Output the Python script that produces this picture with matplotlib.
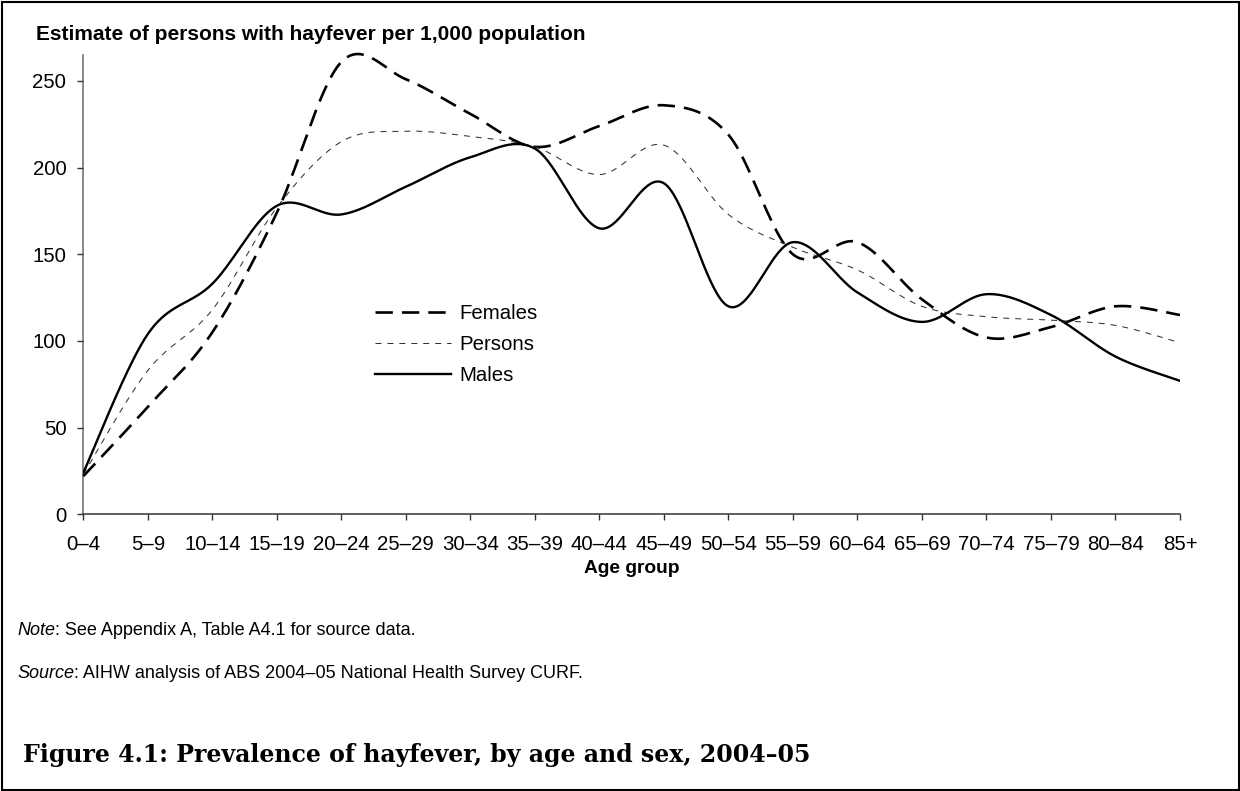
import numpy as np
import matplotlib
matplotlib.use("Agg")
import matplotlib.pyplot as plt
from matplotlib.patches import Rectangle

# ---------------- data ----------------
age_groups = ["0–4", "5–9", "10–14", "15–19", "20–24", "25–29", "30–34", "35–39",
              "40–44", "45–49", "50–54", "55–59", "60–64", "65–69", "70–74",
              "75–79", "80–84", "85+"]
females = [22, 62, 105, 174, 261, 251, 231, 212, 224, 236, 219, 150, 157, 124, 102, 108, 120, 115]
persons = [23, 83, 118, 177, 215, 221, 218, 212, 196, 213, 173, 154, 141, 120, 114, 112, 109, 99]
males = [24, 104, 133, 178, 173, 189, 206, 211, 165, 191, 120, 157, 128, 111, 127, 115, 91, 77]

y_ticks = [0, 50, 100, 150, 200, 250]

plt.rcParams['font.family'] = ['Liberation Sans', 'DejaVu Sans']
plt.rcParams['lines.scale_dashes'] = False

W, H, DPI = 1240, 791, 100
fig = plt.figure(figsize=(W / DPI, H / DPI), dpi=DPI)
fig.patch.set_facecolor('white')

ax_l, ax_r, ax_b, ax_t = 83.3, 1180, 514.3, 55
ax = fig.add_axes([ax_l / W, 1 - ax_b / H, (ax_r - ax_l) / W, (ax_b - ax_t) / H])


def excel_smooth(ys, n=40):
    """Excel-style smoothed line (cubic Bezier, Catmull-Rom control points)."""
    pts = np.column_stack([np.arange(len(ys), dtype=float), np.asarray(ys, float)])
    out = [pts[0]]
    t = np.linspace(0, 1, n)[1:, None]
    for i in range(len(pts) - 1):
        p0 = pts[i - 1] if i > 0 else pts[i]
        p1, p2 = pts[i], pts[i + 1]
        p3 = pts[i + 2] if i + 2 < len(pts) else pts[i + 1]
        c1 = p1 + (p2 - p0) / 6.0
        c2 = p2 - (p3 - p1) / 6.0
        seg = ((1 - t) ** 3) * p1 + 3 * ((1 - t) ** 2) * t * c1 + 3 * (1 - t) * t ** 2 * c2 + t ** 3 * p2
        out.extend(seg)
    out = np.array(out)
    return out[:, 0], out[:, 1]


fx, fy = excel_smooth(females)
px, py = excel_smooth(persons)
mx, my = excel_smooth(males)

ax.plot(fx, fy, color='black', lw=1.9, linestyle=(0, (12.5, 6.5)), label='Females',
        dash_capstyle='butt', clip_on=False)
ax.plot(px, py, color='#333333', lw=0.75, linestyle=(0, (4.3, 4.3)), label='Persons',
        dash_capstyle='butt')
ax.plot(mx, my, color='black', lw=1.7, linestyle='-', label='Males')

ax.set_xlim(0, len(age_groups) - 1)
ax.set_ylim(0, 265)
ax.set_xticks(range(len(age_groups)))
ax.set_xticklabels(age_groups)
ax.set_yticks(y_ticks)
ax.set_yticklabels([str(v) for v in y_ticks])

for side in ['top', 'right']:
    ax.spines[side].set_visible(False)
ax.spines['left'].set_color('#808080')
ax.spines['left'].set_linewidth(1.3)
ax.spines['bottom'].set_color('#333333')
ax.spines['bottom'].set_linewidth(1.1)
ax.spines['left'].set_zorder(0.5)

ax.tick_params(axis='y', direction='out', length=4.2, width=1.0, color='#333333',
               labelsize=14.7, pad=8)
ax.tick_params(axis='x', direction='out', length=4.2, width=1.0, color='#333333',
               labelsize=14.7, pad=11)
for lbl in ax.get_xticklabels() + ax.get_yticklabels():
    lbl.set_color('black')

ax.set_xlabel('Age group', fontsize=13.8, fontweight='bold', labelpad=4)

fig.text(36 / W, 1 - 40 / H, 'Estimate of persons with hayfever per 1,000 population',
         fontsize=15, fontweight='bold', ha='left', va='baseline')

leg = ax.legend(loc='upper left', bbox_to_anchor=(375 / W, 1 - 304 / H),
                bbox_transform=fig.transFigure, frameon=False, fontsize=14.7,
                handlelength=3.7, handletextpad=0.45, labelspacing=0.6,
                borderpad=0, borderaxespad=0)


def run_text(x_px, y_px, parts, size):
    r = fig.canvas.get_renderer()
    x = x_px
    for txt, sty in parts:
        t = fig.text(x / W, 1 - y_px / H, txt, fontsize=size, style=sty,
                     ha='left', va='baseline')
        x += t.get_window_extent(renderer=r).width


run_text(17, 635, [('Note', 'italic'), (': See Appendix A, Table A4.1 for source data.', 'normal')], 13)
run_text(17, 678, [('Source', 'italic'), (': AIHW analysis of ABS 2004–05 National Health Survey CURF.', 'normal')], 13)

fig.text(23 / W, 1 - 762 / H, 'Figure 4.1: Prevalence of hayfever, by age and sex, 2004–05',
         fontsize=17, fontweight='bold', family='DejaVu Serif', ha='left', va='baseline')

fig.patches.append(Rectangle((1.5 / W, 1.5 / H), (W - 3) / W, (H - 3) / H,
                             transform=fig.transFigure, fill=False, ec='black', lw=1.5,
                             figure=fig))

fig.savefig('out.png', dpi=DPI, facecolor='white')
